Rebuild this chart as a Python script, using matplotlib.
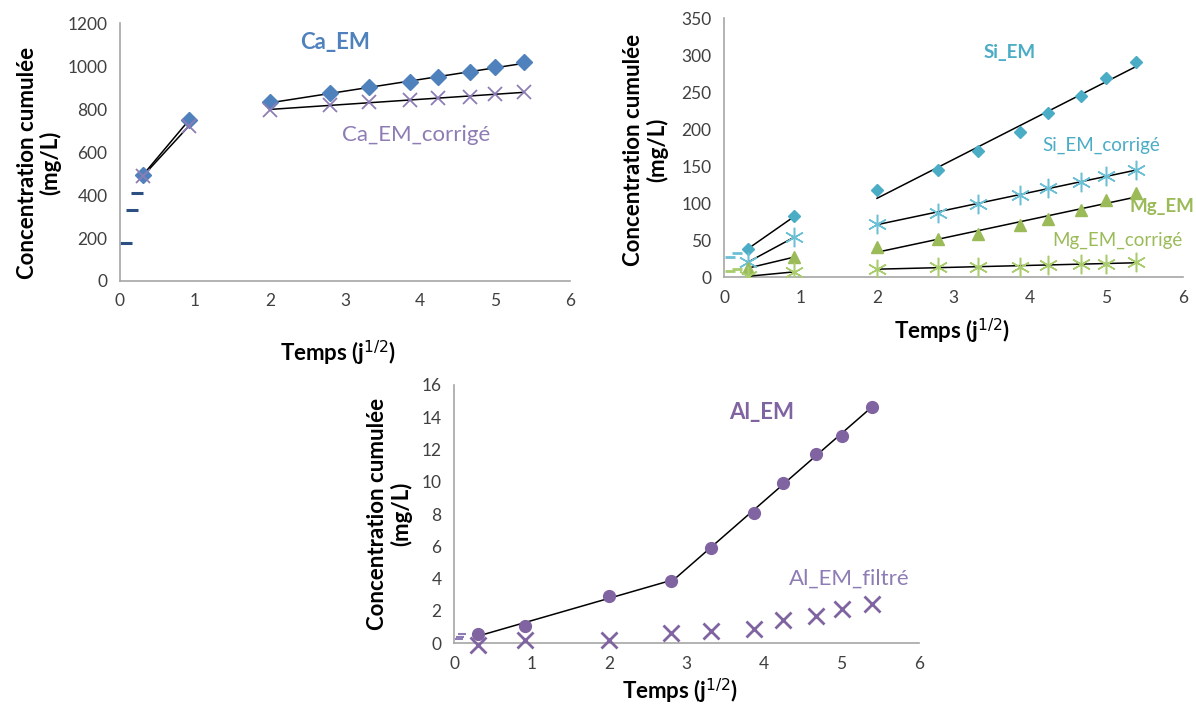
import numpy as np
import matplotlib
matplotlib.use("Agg")
import matplotlib.pyplot as plt

plt.rcParams['font.family'] = ['Lato', 'DejaVu Sans']

# time axis (sqrt of days)
t = [0.31, 0.92, 2.0, 2.8, 3.32, 3.87, 4.24, 4.67, 5.0, 5.39]
t_early = [0.08, 0.16, 0.23]

# Ca chart
ca_em = [495, 749, 833, 874, 902, 925, 949, 972, 995, 1019]
ca_corr = [490, 722, 798, 818, 833, 842, 851, 859, 870, 880]
ca_early = [177, 332, 410]

# Si / Mg chart
si_em = [38, 82, 117, 145, 170, 196, 222, 245, 269, 291]
si_corr = [20, 54, 72, 87, 99, 111, 120, 129, 136, 145]
mg_em = [12, 27, 40, 51, 58, 70, 78, 91, 104, 113]
mg_corr = [1, 7, 11, 13, 14, 14, 16, 18, 18, 20]
si_early_t = [0.08, 0.17]
si_early = [27, 32]
mg_early = [8, 11]

# Al chart
al_em = [0.56, 1.05, 2.9, 3.85, 5.9, 8.07, 9.94, 11.74, 12.86, 14.66]
al_filt = [-0.1, 0.2, 0.2, 0.6, 0.75, 0.9, 1.4, 1.7, 2.1, 2.4]
al_early_t = [0.06, 0.08, 0.1]
al_early = [0.25, 0.4, 0.55]

BLUE = '#4F81BD'
PURPLE = '#8064A2'
LPURPLE = '#8E7CB5'
TEAL = '#4BACC6'
LTEAL = '#6CC0D6'
GREEN = '#9BBB59'
LGREEN = '#A9CC6E'
ASTER = (6, 2, 0)


def trend(ax, x, y, i0, i1):
    xs = np.array(x[i0:i1])
    ys = np.array(y[i0:i1])
    p = np.polyfit(xs, ys, 1)
    xx = np.array([xs[0], xs[-1]])
    ax.plot(xx, np.polyval(p, xx), color='black', lw=1.1, zorder=3)


def style(ax, ymax, ystep, xlab_pos, ylab_pos):
    ax.set_xlim(0, 6)
    ax.set_ylim(0, ymax)
    ax.set_xticks(range(0, 7))
    ax.set_yticks(np.arange(0, ymax + ystep / 2, ystep))
    for s in ['top', 'right']:
        ax.spines[s].set_visible(False)
    for s in ['left', 'bottom']:
        ax.spines[s].set_color('#A6A6A6')
        ax.spines[s].set_linewidth(1.2)
    ax.tick_params(length=0, labelsize=12.5, colors='#404040', pad=9)
    ax.set_xlabel('Temps (j$^{1/2}$)', fontsize=16, fontweight='bold')
    ax.set_ylabel('Concentration cumulée\n(mg/L)', fontsize=16, fontweight='bold',
                  linespacing=1.1)
    ax.xaxis.set_label_coords(*xlab_pos)
    ax.yaxis.set_label_coords(*ylab_pos)


fig = plt.figure(figsize=(11.96, 7.06), dpi=100)

# ---------------- Ca ----------------
ax1 = fig.add_axes([0.1003, 0.602, 0.3763, 0.365])
ax1.plot(t_early, ca_early, ls='none', marker='_', ms=8, mew=2.2, color='#2B4F81')
ax1.plot(t, ca_em, ls='none', marker='D', ms=8, color=BLUE, zorder=4)
ax1.plot(t, ca_corr, ls='none', marker='x', ms=10, mew=1.3, color=LPURPLE, zorder=4)
for y in (ca_em, ca_corr):
    trend(ax1, t, y, 0, 2)
    trend(ax1, t, y, 2, 10)
ax1.text(2.87, 1112, 'Ca_EM', color=BLUE, fontsize=16, fontweight='bold',
         ha='center', va='center')
ax1.text(3.95, 679, 'Ca_EM_corrigé', color=LPURPLE, fontsize=16,
         ha='center', va='center')
style(ax1, 1200, 200, (0.484, -0.225), (-0.13, 0.46))

# ---------------- Si / Mg ----------------
ax2 = fig.add_axes([0.6054, 0.6076, 0.3837, 0.3669])
ax2.plot(si_early_t, si_early, ls='none', marker='_', ms=7, mew=2, color=LTEAL)
ax2.plot(si_early_t, mg_early, ls='none', marker='_', ms=7, mew=2, color=LGREEN)
ax2.plot(t, si_em, ls='none', marker='D', ms=6.5, color=TEAL, zorder=4)
ax2.plot(t, si_corr, ls='none', marker=ASTER, ms=14, mew=1.1, color=LTEAL, zorder=4)
ax2.plot(t, mg_em, ls='none', marker='^', ms=8, color=GREEN, zorder=4)
ax2.plot(t, mg_corr, ls='none', marker=ASTER, ms=14, mew=1.1, color=LGREEN, zorder=4)
for y in (si_em, si_corr, mg_em, mg_corr):
    trend(ax2, t, y, 0, 2)
    trend(ax2, t, y, 2, 10)
ax2.text(3.74, 304, 'Si_EM', color=TEAL, fontsize=13.5, fontweight='bold',
         ha='center', va='center')
ax2.text(4.93, 178, 'Si_EM_corrigé', color=TEAL, fontsize=13.5,
         ha='center', va='center')
ax2.text(5.73, 95, 'Mg_EM', color=GREEN, fontsize=13.5, fontweight='bold',
         ha='center', va='center', clip_on=False)
ax2.text(5.14, 50, 'Mg_EM_corrigé', color=GREEN, fontsize=13.5,
         ha='center', va='center')
style(ax2, 350, 50, (0.497, -0.155), (-0.122, 0.49))

# ---------------- Al ----------------
ax3 = fig.add_axes([0.3796, 0.0892, 0.3888, 0.3655])
ax3.plot(al_early_t, al_early, ls='none', marker='_', ms=6, mew=1.5, color=LPURPLE)
ax3.plot(t, al_em, ls='none', marker='o', ms=8.5, color=PURPLE, zorder=4)
ax3.plot(t, al_filt, ls='none', marker='x', ms=11, mew=2, color=PURPLE, zorder=4,
         clip_on=False)
trend(ax3, t, al_em, 0, 4)
trend(ax3, t, al_em, 3, 10)
ax3.text(3.97, 14.3, 'Al_EM', color=PURPLE, fontsize=16, fontweight='bold',
         ha='center', va='center')
ax3.text(5.1, 4.0, 'Al_EM_filtré', color=LPURPLE, fontsize=16,
         ha='center', va='center')
style(ax3, 16, 2, (0.486, -0.13), (-0.09, 0.50))

fig.savefig('out.png', dpi=100)
